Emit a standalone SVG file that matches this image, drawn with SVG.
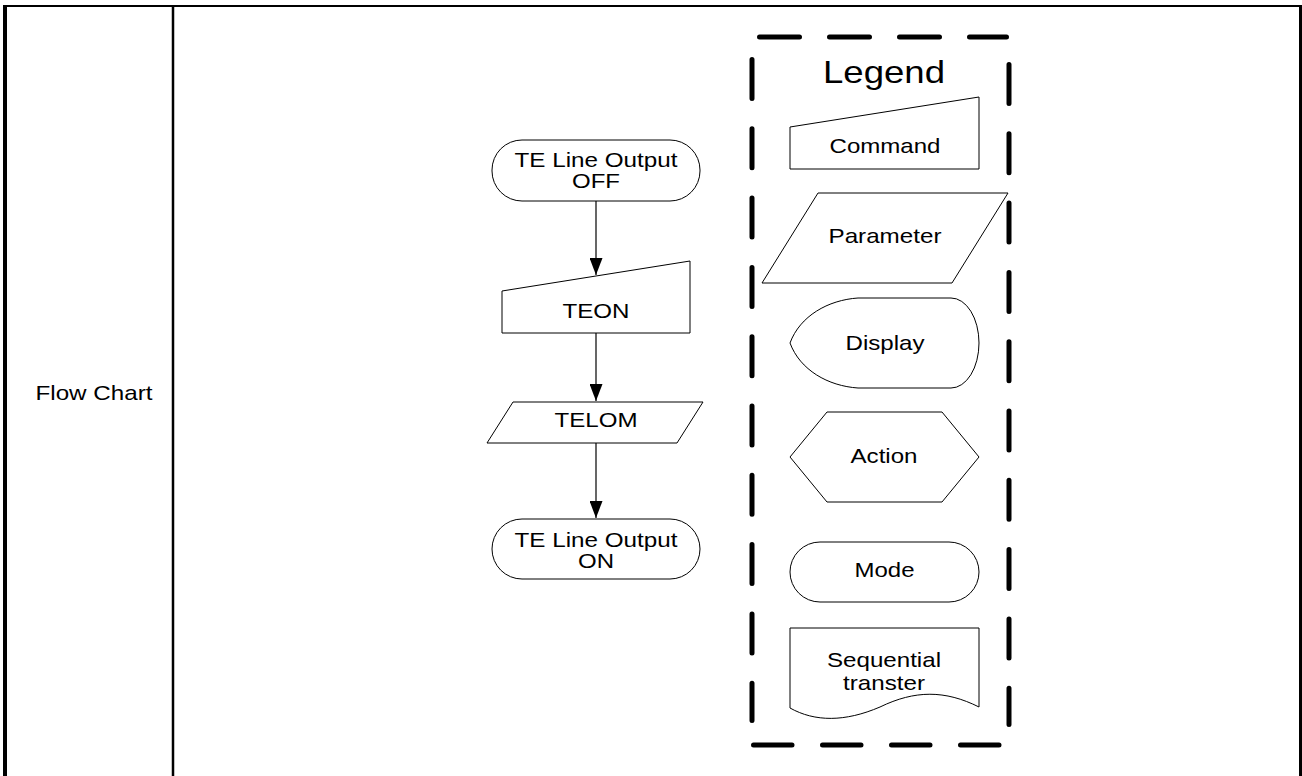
<svg xmlns="http://www.w3.org/2000/svg" width="1302" height="776" viewBox="0 0 1302 776">
<style>
.shape{fill:#fff;stroke:#000;stroke-width:1}
.t{font-family:"Liberation Sans",Arial,sans-serif;font-size:21px;fill:#000;text-anchor:middle}
.frame{stroke:#000;fill:none}
.conn{stroke:#000;stroke-width:1.2;fill:none}
.dash{stroke:#000;stroke-width:5;stroke-linecap:round;fill:none}
</style>
<defs>
<marker id="arr" markerUnits="userSpaceOnUse" markerWidth="17" markerHeight="13" refX="17" refY="6.5" orient="auto">
<path d="M0,0 L17,6.5 L0,13 Z" fill="#000"/>
</marker>
</defs>
<rect width="1302" height="776" fill="#fff"/>
<g id="table">
<line class="frame" x1="3" y1="6" x2="1302" y2="6" stroke-width="2"/>
<line class="frame" x1="5" y1="5" x2="5" y2="776" stroke-width="4"/>
<line class="frame" x1="173" y1="6" x2="173" y2="776" stroke-width="2.5"/>
<line class="frame" x1="1300.5" y1="5" x2="1300.5" y2="776" stroke-width="3"/>
<text class="t" x="94" y="399.5" textLength="117" lengthAdjust="spacingAndGlyphs">Flow Chart</text>
</g>
<g id="connectors">
<line class="conn" x1="596" y1="201" x2="596" y2="275" marker-end="url(#arr)"/>
<line class="conn" x1="596" y1="333" x2="596" y2="401" marker-end="url(#arr)"/>
<line class="conn" x1="596" y1="443" x2="596" y2="518" marker-end="url(#arr)"/>
</g>
<g id="n-off">
<rect class="shape" x="492" y="140" width="208" height="61" rx="30" ry="30"/>
<text class="t" x="596" y="167" textLength="163" lengthAdjust="spacingAndGlyphs">TE Line Output</text>
<text class="t" x="596" y="188" textLength="48" lengthAdjust="spacingAndGlyphs">OFF</text>
</g>
<g id="n-teon">
<polygon class="shape" points="502,291 690,261 690,333 502,333"/>
<text class="t" x="596" y="318" textLength="67" lengthAdjust="spacingAndGlyphs">TEON</text>
</g>
<g id="n-telom">
<polygon class="shape" points="513,402 703,402 677,443 487,443"/>
<text class="t" x="596" y="427" textLength="83" lengthAdjust="spacingAndGlyphs">TELOM</text>
</g>
<g id="n-on">
<rect class="shape" x="492" y="519" width="208" height="60" rx="30" ry="30"/>
<text class="t" x="596" y="547" textLength="163" lengthAdjust="spacingAndGlyphs">TE Line Output</text>
<text class="t" x="596" y="568" textLength="36" lengthAdjust="spacingAndGlyphs">ON</text>
</g>
<g id="legend">
<line class="dash" x1="759.5" y1="37" x2="1006.5" y2="37" stroke-dasharray="40 30"/>
<line class="dash" x1="753.5" y1="745" x2="999.5" y2="745" stroke-dasharray="38.5 30.5"/>
<line class="dash" x1="752" y1="59.5" x2="752" y2="720.5" stroke-dasharray="39 30.3"/>
<line class="dash" x1="1009" y1="64.5" x2="1009" y2="724.5" stroke-dasharray="39 30.3"/>
<text class="t" x="884" y="83" font-size="32" style="font-size:32px" textLength="122" lengthAdjust="spacingAndGlyphs">Legend</text>
</g>
<g id="l-command">
<polygon class="shape" points="790,127 979,97 979,169 790,169"/>
<text class="t" x="885" y="153" textLength="111" lengthAdjust="spacingAndGlyphs">Command</text>
</g>
<g id="l-parameter">
<polygon class="shape" points="818,193 1008,193 952,283 762,283"/>
<text class="t" x="885" y="243" textLength="113" lengthAdjust="spacingAndGlyphs">Parameter</text>
</g>
<g id="l-display">
<path class="shape" d="M858,298 L951,298 A28,45 0 0 1 951,388 L858,388 C828,386 800,370 790,343 C800,316 828,300 858,298 Z"/>
<text class="t" x="885" y="350" textLength="79" lengthAdjust="spacingAndGlyphs">Display</text>
</g>
<g id="l-action">
<polygon class="shape" points="827,412 942,412 979,457 942,502 827,502 790,457"/>
<text class="t" x="884" y="463" textLength="67" lengthAdjust="spacingAndGlyphs">Action</text>
</g>
<g id="l-mode">
<rect class="shape" x="790" y="542" width="189" height="60" rx="30" ry="30"/>
<text class="t" x="884.5" y="577" textLength="60" lengthAdjust="spacingAndGlyphs">Mode</text>
</g>
<g id="l-seq">
<path class="shape" d="M790,628 H979 V707 C945,690 915,690 880,707 C845,722 815,722 790,708 Z"/>
<text class="t" x="884" y="667" textLength="114" lengthAdjust="spacingAndGlyphs">Sequential</text>
<text class="t" x="884" y="690" textLength="82" lengthAdjust="spacingAndGlyphs">transter</text>
</g>
</svg>
